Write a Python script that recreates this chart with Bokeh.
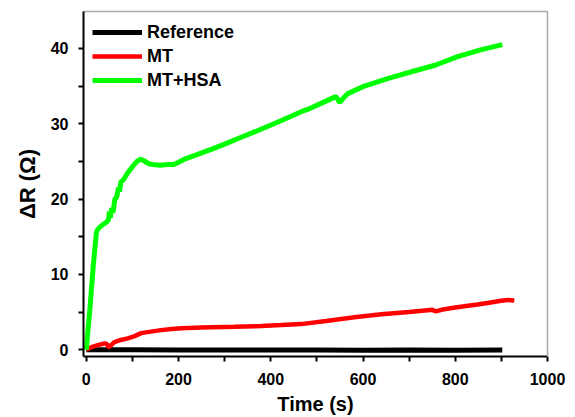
from bokeh.plotting import figure
from bokeh.models import FixedTicker, Range1d, Legend, LegendItem, LinearAxis
from bokeh.embed import file_html
from bokeh.resources import INLINE

# ---- data ----
ref_t = [0, 100, 200, 300, 400, 500, 600, 700, 800, 902]
ref_v = [0, -0.02, -0.05, -0.03, -0.05, -0.04, -0.06, -0.05, -0.06, -0.05]

mt_t = [0, 10, 25, 40, 45, 48, 52, 61, 75, 90, 105, 119, 140, 162, 185, 206, 250,
        321, 380, 422, 466, 520, 581, 640, 700, 740, 750, 758, 770, 800, 848, 870,
        899, 915, 928]
mt_v = [0, 0.3, 0.6, 0.85, 0.75, 0.3, 0.5, 1.0, 1.3, 1.5, 1.8, 2.2, 2.4, 2.6, 2.75,
        2.85, 2.95, 3.05, 3.15, 3.27, 3.4, 3.8, 4.3, 4.7, 5.0, 5.25, 5.3, 5.1, 5.3,
        5.6, 6.0, 6.2, 6.5, 6.6, 6.55]

hsa_t = [0, 8, 15, 22, 25, 30, 38, 45, 48, 50, 52, 55, 58, 62, 66, 70, 72, 75, 80,
         85, 90, 100, 110, 118, 125, 135, 145, 160, 175, 190, 200, 213, 240, 271,
         300, 336, 380, 422, 466, 480, 516, 541, 546, 549, 556, 567, 603, 653, 711,
         758, 805, 855, 902]
hsa_v = [0, 5.5, 11.0, 15.6, 16.0, 16.3, 16.7, 17.0, 17.2, 18.3, 17.5, 18.8, 18.2,
         20.0, 20.3, 21.5, 21.0, 22.3, 22.5, 23.0, 23.5, 24.3, 25.0, 25.3, 25.1,
         24.7, 24.6, 24.5, 24.6, 24.6, 24.9, 25.3, 25.9, 26.6, 27.3, 28.2, 29.3,
         30.4, 31.6, 31.9, 32.9, 33.6, 33.2, 32.8, 33.3, 34.0, 35.0, 36.0, 37.0,
         37.8, 38.9, 39.8, 40.5]

x_ticks = [0, 200, 400, 600, 800, 1000]
x_minor = [100, 300, 500, 700, 900]
y_ticks = [0, 10, 20, 30, 40]
y_minor = [5, 15, 25, 35]

FONT = "Liberation Sans"

p = figure(width=575, height=417,
           min_border_left=83, min_border_right=28, min_border_top=11, min_border_bottom=58,
           x_range=Range1d(-6, 1000), y_range=Range1d(-0.9, 44.9),
           x_axis_location=None, y_axis_location=None,
           output_backend="svg", toolbar_location=None)
p.xgrid.grid_line_color = None
p.ygrid.grid_line_color = None
p.outline_line_color = None

r_ref = p.line(ref_t, ref_v, line_color="black", line_width=5)
r_mt = p.line(mt_t, mt_v, line_color="#ff0000", line_width=4.5)
r_hsa = p.line(hsa_t, hsa_v, line_color="#00ff00", line_width=5)


def tick_axis(all_ticks):
    # axis line + tick marks only (innermost, at the frame edge)
    return LinearAxis(ticker=FixedTicker(ticks=[], minor_ticks=all_ticks),
                      axis_line_color="black", axis_line_width=2,
                      major_tick_line_color=None, major_tick_in=0, major_tick_out=0,
                      minor_tick_line_color="black", minor_tick_line_width=2,
                      minor_tick_in=0, minor_tick_out=5)


def label_axis(ticks, standoff, title, title_size, title_standoff):
    return LinearAxis(ticker=FixedTicker(ticks=ticks),
                      axis_line_color=None,
                      major_tick_line_color=None, major_tick_in=0, major_tick_out=0,
                      minor_tick_line_color=None, minor_tick_in=0, minor_tick_out=0,
                      major_label_standoff=standoff,
                      major_label_text_font=FONT, major_label_text_font_style="bold",
                      major_label_text_font_size="16px", major_label_text_color="black",
                      axis_label=title, axis_label_text_font=FONT,
                      axis_label_text_font_style="bold", axis_label_text_font_size=title_size,
                      axis_label_text_color="black", axis_label_standoff=title_standoff)


p.add_layout(tick_axis(sorted(x_ticks + x_minor)), "below")
p.add_layout(label_axis(x_ticks, 11, "Time (s)", "20px", 5), "below")
p.add_layout(tick_axis(sorted(y_ticks + y_minor)), "left")
p.add_layout(label_axis(y_ticks, 10, "ΔR (Ω)", "22px", 8), "left")

# light gray top and right frame edges (no ticks, no labels)
p.add_layout(LinearAxis(ticker=FixedTicker(ticks=[]), major_tick_line_color=None,
                        minor_tick_line_color=None, axis_line_color="#aaaaaa",
                        axis_line_width=1.5), "above")
p.add_layout(LinearAxis(ticker=FixedTicker(ticks=[]), major_tick_line_color=None,
                        minor_tick_line_color=None, axis_line_color="#aaaaaa",
                        axis_line_width=1.5), "right")

legend = Legend(items=[LegendItem(label="Reference", renderers=[r_ref]),
                       LegendItem(label="MT", renderers=[r_mt]),
                       LegendItem(label="MT+HSA", renderers=[r_hsa])],
                location="top_left")
legend.border_line_color = None
legend.margin = 9
legend.padding = 8
legend.spacing = 0
legend.glyph_width = 50
legend.glyph_height = 24
legend.label_height = 24
legend.label_standoff = 5
legend.label_text_font = FONT
legend.label_text_font_style = "bold"
legend.label_text_font_size = "18px"
legend.label_text_color = "black"
p.add_layout(legend)

open("out.html", "w").write(file_html(p, INLINE))
